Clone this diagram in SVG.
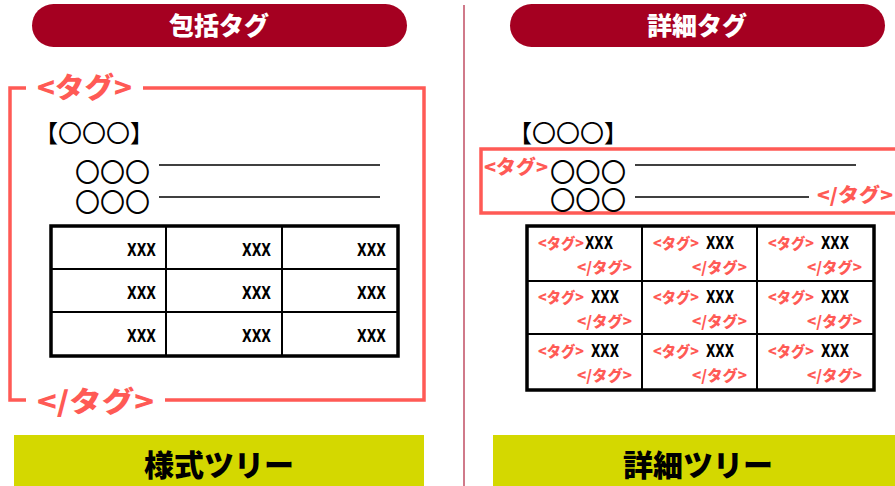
<svg xmlns="http://www.w3.org/2000/svg" width="895" height="486" viewBox="0 0 895 486">
<style>
.hdr{fill:#a50021}
.hdrt{fill:#fff;font-family:"Noto Sans CJK JP",sans-serif;font-weight:900;font-size:25px;text-anchor:middle}
.foot{fill:#d4d800}
.foott{fill:#000;font-family:"Noto Sans CJK JP",sans-serif;font-weight:900;font-size:30px;text-anchor:middle}
.red{fill:none;stroke:#ff5a55;stroke-width:3.5}
.tag{fill:#ff5a55;font-family:"Noto Sans CJK JP",sans-serif;font-weight:900}
.circ{fill:#000;font-family:"Noto Sans CJK JP",sans-serif;font-size:26px}
.brk{fill:#000;font-family:"Noto Sans CJK JP",sans-serif;font-size:24px}
.ln{stroke:#000;stroke-width:1.3}
.tbl{fill:#fff;stroke:#000;stroke-width:3.5}
.grid{stroke:#000;stroke-width:2}
.x{fill:#000;font-family:"DejaVu Sans Condensed","DejaVu Sans",sans-serif;font-weight:bold;font-size:18px}
.xr{text-anchor:end}
.st{font-size:15px}
.et{font-size:15px;text-anchor:end}
</style>
<g id="divider"><line x1="464" y1="5" x2="464" y2="486" stroke="#d07a8a" stroke-width="2"/></g>

<g id="hdr-left"><rect class="hdr" x="32" y="4" width="375" height="43" rx="21.5"/><text class="hdrt" x="219" y="35">包括タグ</text></g>
<g id="hdr-right"><rect class="hdr" x="510" y="4" width="375" height="43" rx="21.5"/><text class="hdrt" x="697" y="35">詳細タグ</text></g>

<g id="left-frame">
<path class="red" d="M26 88 H10 V400 H26 M143 88 H424 V400 H165"/>
<text class="tag" x="37" y="98" font-size="28" textLength="95" lengthAdjust="spacingAndGlyphs">&lt;タグ&gt;</text>
<text class="tag" x="37" y="412" font-size="28" textLength="117" lengthAdjust="spacingAndGlyphs">&lt;/タグ&gt;</text>
</g>

<g id="left-content">
<text class="brk" x="34" y="142">【〇〇〇】</text>
<text class="circ" x="75" y="182" textLength="75" lengthAdjust="spacingAndGlyphs">〇〇〇</text>
<text class="circ" x="75" y="212" textLength="75" lengthAdjust="spacingAndGlyphs">〇〇〇</text>
<line class="ln" x1="159" y1="165" x2="380" y2="165"/>
<line class="ln" x1="159" y1="197" x2="380" y2="197"/>
</g>

<g id="left-table">
<rect class="tbl" x="51" y="226" width="347" height="130"/>
<line class="grid" x1="166" y1="226" x2="166" y2="356"/>
<line class="grid" x1="282" y1="226" x2="282" y2="356"/>
<line class="grid" x1="51" y1="269" x2="398" y2="269"/>
<line class="grid" x1="51" y1="312" x2="398" y2="312"/>
<g class="x xr">
<text x="156" y="256" textLength="29" lengthAdjust="spacingAndGlyphs">XXX</text><text x="271" y="256" textLength="29" lengthAdjust="spacingAndGlyphs">XXX</text><text x="386" y="256" textLength="29" lengthAdjust="spacingAndGlyphs">XXX</text>
<text x="156" y="299" textLength="29" lengthAdjust="spacingAndGlyphs">XXX</text><text x="271" y="299" textLength="29" lengthAdjust="spacingAndGlyphs">XXX</text><text x="386" y="299" textLength="29" lengthAdjust="spacingAndGlyphs">XXX</text>
<text x="156" y="342" textLength="29" lengthAdjust="spacingAndGlyphs">XXX</text><text x="271" y="342" textLength="29" lengthAdjust="spacingAndGlyphs">XXX</text><text x="386" y="342" textLength="29" lengthAdjust="spacingAndGlyphs">XXX</text>
</g>
</g>

<g id="right-content">
<text class="brk" x="508" y="142">【〇〇〇】</text>
<rect class="red" x="481" y="149" width="420" height="64"/>
<text class="tag" x="484" y="174" font-size="19" textLength="64" lengthAdjust="spacingAndGlyphs">&lt;タグ&gt;</text>
<text class="circ" x="550" y="182" textLength="76" lengthAdjust="spacingAndGlyphs">〇〇〇</text>
<text class="circ" x="550" y="210" textLength="76" lengthAdjust="spacingAndGlyphs">〇〇〇</text>
<line class="ln" x1="635" y1="165" x2="856" y2="165"/>
<line class="ln" x1="635" y1="197" x2="809" y2="197"/>
<text class="tag" x="817" y="202" font-size="19" textLength="76" lengthAdjust="spacingAndGlyphs">&lt;/タグ&gt;</text>
</g>

<g id="right-table">
<rect class="tbl" x="527" y="226" width="347" height="164"/>
<line class="grid" x1="642" y1="226" x2="642" y2="390"/>
<line class="grid" x1="757" y1="226" x2="757" y2="390"/>
<line class="grid" x1="527" y1="281" x2="874" y2="281"/>
<line class="grid" x1="527" y1="334" x2="874" y2="334"/>
<g id="r1">
<text class="tag st" x="538" y="249" textLength="46" lengthAdjust="spacingAndGlyphs">&lt;タグ&gt;</text><text class="x" x="585" y="249" textLength="28" lengthAdjust="spacingAndGlyphs">XXX</text><text class="tag et" x="632" y="273" textLength="55" lengthAdjust="spacingAndGlyphs">&lt;/タグ&gt;</text>
<text class="tag st" x="653" y="249" textLength="46" lengthAdjust="spacingAndGlyphs">&lt;タグ&gt;</text><text class="x" x="706" y="249" textLength="28" lengthAdjust="spacingAndGlyphs">XXX</text><text class="tag et" x="747" y="273" textLength="55" lengthAdjust="spacingAndGlyphs">&lt;/タグ&gt;</text>
<text class="tag st" x="768" y="249" textLength="46" lengthAdjust="spacingAndGlyphs">&lt;タグ&gt;</text><text class="x" x="821" y="249" textLength="28" lengthAdjust="spacingAndGlyphs">XXX</text><text class="tag et" x="862" y="273" textLength="55" lengthAdjust="spacingAndGlyphs">&lt;/タグ&gt;</text>
</g>
<g id="r2">
<text class="tag st" x="538" y="303" textLength="46" lengthAdjust="spacingAndGlyphs">&lt;タグ&gt;</text><text class="x" x="591" y="303" textLength="28" lengthAdjust="spacingAndGlyphs">XXX</text><text class="tag et" x="632" y="327" textLength="55" lengthAdjust="spacingAndGlyphs">&lt;/タグ&gt;</text>
<text class="tag st" x="653" y="303" textLength="46" lengthAdjust="spacingAndGlyphs">&lt;タグ&gt;</text><text class="x" x="706" y="303" textLength="28" lengthAdjust="spacingAndGlyphs">XXX</text><text class="tag et" x="747" y="327" textLength="55" lengthAdjust="spacingAndGlyphs">&lt;/タグ&gt;</text>
<text class="tag st" x="768" y="303" textLength="46" lengthAdjust="spacingAndGlyphs">&lt;タグ&gt;</text><text class="x" x="821" y="303" textLength="28" lengthAdjust="spacingAndGlyphs">XXX</text><text class="tag et" x="862" y="327" textLength="55" lengthAdjust="spacingAndGlyphs">&lt;/タグ&gt;</text>
</g>
<g id="r3">
<text class="tag st" x="538" y="357" textLength="46" lengthAdjust="spacingAndGlyphs">&lt;タグ&gt;</text><text class="x" x="591" y="357" textLength="28" lengthAdjust="spacingAndGlyphs">XXX</text><text class="tag et" x="632" y="381" textLength="55" lengthAdjust="spacingAndGlyphs">&lt;/タグ&gt;</text>
<text class="tag st" x="653" y="357" textLength="46" lengthAdjust="spacingAndGlyphs">&lt;タグ&gt;</text><text class="x" x="706" y="357" textLength="28" lengthAdjust="spacingAndGlyphs">XXX</text><text class="tag et" x="747" y="381" textLength="55" lengthAdjust="spacingAndGlyphs">&lt;/タグ&gt;</text>
<text class="tag st" x="768" y="357" textLength="46" lengthAdjust="spacingAndGlyphs">&lt;タグ&gt;</text><text class="x" x="821" y="357" textLength="28" lengthAdjust="spacingAndGlyphs">XXX</text><text class="tag et" x="862" y="381" textLength="55" lengthAdjust="spacingAndGlyphs">&lt;/タグ&gt;</text>
</g>
</g>

<g id="foot-left"><rect class="foot" x="14" y="435" width="410" height="51"/><text class="foott" x="219" y="476">様式ツリー</text></g>
<g id="foot-right"><rect class="foot" x="493" y="435" width="402" height="51"/><text class="foott" x="698" y="476">詳細ツリー</text></g>
</svg>
